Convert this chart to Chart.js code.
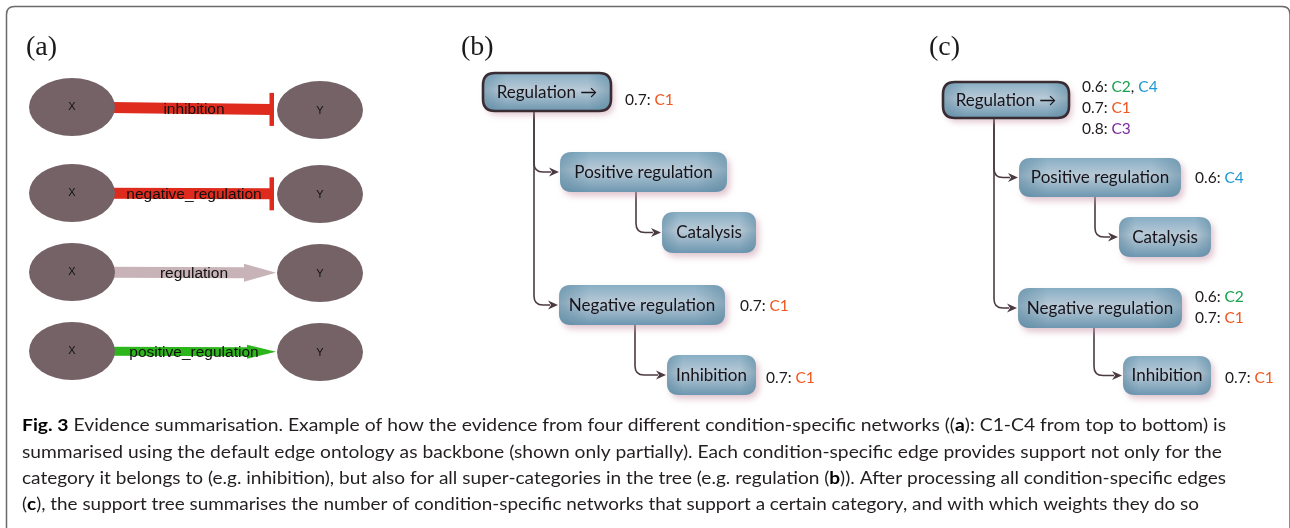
<!DOCTYPE html>
<html>
<head>
<meta charset="utf-8">
<script src="https://cdn.jsdelivr.net/npm/chart.js@4"></script>
<style>
  html, body { margin: 0; padding: 0; background: #fff; }
  canvas { display: block; }
</style>
</head>
<body>
<canvas id="fig3" width="1290" height="528"></canvas>
<script>
// panel (a): one condition-specific edge per network
const edgeTypes = ["inhibition", "negative_regulation", "regulation", "positive_regulation"];
const edgeSource = ["X", "X", "X", "X"];
const edgeTarget = ["Y", "Y", "Y", "Y"];
const edgeHeads = ["bar", "bar", "arrow", "arrow"];

// panels (b) and (c): the edge ontology tree
const categories = ["Regulation \u2192", "Positive regulation", "Catalysis", "Negative regulation", "Inhibition"];
const categoryParent = [null, 0, 1, 0, 3];

// support (weight, conditions) per category
const supportB = [[[0.7, ["C1"]]], [], [], [[0.7, ["C1"]]], [[0.7, ["C1"]]]];
const supportC = [
  [[0.6, ["C2", "C4"]], [0.7, ["C1"]], [0.8, ["C3"]]],
  [[0.6, ["C4"]]],
  [],
  [[0.6, ["C2"]], [0.7, ["C1"]]],
  [[0.7, ["C1"]]],
];

const conditionColors = { C1: "#f0561e", C2: "#17a24c", C3: "#7a2a9c", C4: "#1c98d4" };

const captionLines = [
  [["Fig. 3", true], [" Evidence summarisation. Example of how the evidence from four different condition-specific networks ((", false], ["a", true], ["): C1-C4 from top to bottom) is", false]],
  [["summarised using the default edge ontology as backbone (shown only partially). Each condition-specific edge provides support not only for the", false]],
  [["category it belongs to (e.g. inhibition), but also for all super-categories in the tree (e.g. regulation (", false], ["b", true], [")). After processing all condition-specific edges", false]],
  [["(", false], ["c", true], ["), the support tree summarises the number of condition-specific networks that support a certain category, and with which weights they do so", false]],
];

// ---- layout (figure units = px) ----
const layoutA = {
  srcX: 72, tgtX: 320, rx: 43, ry: 29,
  srcY: [107, 193, 272, 351], tgtY: [110, 194, 273, 352],
  bandStart: 110, barX: 271.5, tipX: 276,
  thick: [11, 11, 11, 9], headLen: [0, 0, 32, 29], headHalf: [0, 0, 9, 7],
  labelX: 196,
};
const boxesB = [[483, 73, 611, 111], [560, 152, 727, 192], [662, 212, 756, 253], [559, 285, 725, 325], [667, 355, 756, 395]];
const boxesC = [[943, 82, 1069, 118], [1019, 158, 1181, 197], [1119, 217, 1211, 257], [1018, 288, 1182, 328], [1123, 356, 1211, 395]];
const annB = [[625, 100], null, null, [740, 306], [766, 378]];
const annC = [[1082, 87], [1195, 178], null, [1195, 297], [1225, 378]];
const captionX = 22, captionY = [425, 452, 478, 504], captionRight = [1226, 1222, 1226, 1199];

function roundRect(ctx, x, y, w, h, r) {
  ctx.beginPath();
  ctx.moveTo(x + r, y);
  ctx.lineTo(x + w - r, y);
  ctx.quadraticCurveTo(x + w, y, x + w, y + r);
  ctx.lineTo(x + w, y + h - r);
  ctx.quadraticCurveTo(x + w, y + h, x + w - r, y + h);
  ctx.lineTo(x + r, y + h);
  ctx.quadraticCurveTo(x, y + h, x, y + h - r);
  ctx.lineTo(x, y + r);
  ctx.quadraticCurveTo(x, y, x + r, y);
  ctx.closePath();
}

function drawTree(ctx, px, py, boxes, ann, support) {
  // connectors first
  ctx.strokeStyle = "#4b3a42";
  ctx.fillStyle = "#4b3a42";
  ctx.lineWidth = 1.6;
  categories.forEach((name, i) => {
    const p = categoryParent[i];
    if (p === null) return;
    const pb = boxes[p], cb = boxes[i];
    const tx = px(pb[0] + (p === 0 ? 51 : 76));
    const top = py(pb[3]);
    const cy = py((cb[1] + cb[3]) / 2);
    const endX = px(cb[0]) - 1;
    ctx.beginPath();
    ctx.moveTo(tx, top);
    ctx.lineTo(tx, cy - 9);
    ctx.quadraticCurveTo(tx, cy, tx + 9, cy);
    ctx.lineTo(endX - 8, cy);
    ctx.stroke();
    ctx.beginPath();
    ctx.moveTo(endX, cy);
    ctx.lineTo(endX - 10, cy - 4.5);
    ctx.lineTo(endX - 7, cy);
    ctx.lineTo(endX - 10, cy + 4.5);
    ctx.closePath();
    ctx.fill();
  });

  categories.forEach((name, i) => {
    const b = boxes[i];
    const x0 = px(b[0]), y0 = py(b[1]), x1 = px(b[2]), y1 = py(b[3]);
    const w = x1 - x0, h = y1 - y0;
    ctx.save();
    ctx.shadowColor = "rgba(200,150,170,0.55)";
    ctx.shadowBlur = 6;
    ctx.shadowOffsetX = 3;
    ctx.shadowOffsetY = 4;
    const g = ctx.createLinearGradient(0, y0, 0, y1);
    g.addColorStop(0, "#88aec4");
    g.addColorStop(0.45, "#b9cad7");
    g.addColorStop(1, "#6d97b0");
    roundRect(ctx, x0, y0, w, h, 12);
    ctx.fillStyle = g;
    ctx.fill();
    ctx.restore();
    // darker sides
    const gs = ctx.createLinearGradient(x0, 0, x1, 0);
    gs.addColorStop(0, "rgba(90,135,160,0.55)");
    gs.addColorStop(0.18, "rgba(90,135,160,0)");
    gs.addColorStop(0.82, "rgba(90,135,160,0)");
    gs.addColorStop(1, "rgba(90,135,160,0.55)");
    roundRect(ctx, x0, y0, w, h, 12);
    ctx.fillStyle = gs;
    ctx.fill();
    if (i === 0) {
      roundRect(ctx, x0, y0, w, h, 12);
      ctx.strokeStyle = "#3a2c33";
      ctx.lineWidth = 2.6;
      ctx.stroke();
    }
    ctx.fillStyle = "#17131a";
    ctx.font = "17px Lato, 'DejaVu Sans'";
    ctx.textAlign = "center";
    ctx.textBaseline = "middle";
    ctx.fillText(name, (x0 + x1) / 2, (y0 + y1) / 2 + 0.5);

    const a = ann[i];
    if (!a) return;
    ctx.font = "15.5px Lato, 'DejaVu Sans'";
    ctx.textAlign = "left";
    support[i].forEach((row, r) => {
      let x = px(a[0]);
      const y = py(a[1] + r * 21);
      const head = row[0].toFixed(1) + ": ";
      ctx.fillStyle = "#1e1a1d";
      ctx.fillText(head, x, y);
      x += ctx.measureText(head).width;
      row[1].forEach((c, k) => {
        if (k > 0) {
          ctx.fillStyle = "#1e1a1d";
          ctx.fillText(", ", x, y);
          x += ctx.measureText(", ").width;
        }
        ctx.fillStyle = conditionColors[c];
        ctx.fillText(c, x, y);
        x += ctx.measureText(c).width;
      });
    });
  });
}

const figurePlugin = {
  id: "figure3",
  afterDraw(chart) {
    const ctx = chart.ctx;
    const px = v => chart.scales.x.getPixelForValue(v);
    const py = v => chart.scales.y.getPixelForValue(v);
    ctx.save();

    // frame
    roundRect(ctx, px(6.5), py(6.5), px(1290) - px(6.5), py(528) - py(6.5) + 80, 8);
    ctx.strokeStyle = "#6a6a6a";
    ctx.lineWidth = 1.5;
    ctx.stroke();

    // panel letters
    ctx.fillStyle = "#1a1a1a";
    ctx.font = "28px 'Liberation Serif'";
    ctx.textAlign = "left";
    ctx.textBaseline = "alphabetic";
    ctx.fillText("(a)", px(26), py(55));
    ctx.fillText("(b)", px(461), py(55));
    ctx.fillText("(c)", px(929), py(55));

    // panel (a)
    const A = layoutA;
    const bandColors = { inhibition: "#de2b1e", negative_regulation: "#de2b1e", regulation: "#c8b3b8", positive_regulation: "#2db51c" };
    edgeTypes.forEach((type, i) => {
      const sy = py(A.srcY[i]), ty = py(A.tgtY[i]);
      const col = bandColors[type];
      const half = A.thick[i] / 2;
      const x0 = px(A.bandStart);
      const endX = edgeHeads[i] === "bar" ? px(A.barX) : px(A.tipX - A.headLen[i]) + 1;
      const slope = (ty - sy) / (px(A.tgtX) - px(A.srcX));
      const yAt = x => sy + (x - px(A.srcX)) * slope;
      ctx.fillStyle = col;
      ctx.beginPath();
      ctx.moveTo(x0, yAt(x0) - half);
      ctx.lineTo(endX, yAt(endX) - half);
      ctx.lineTo(endX, yAt(endX) + half);
      ctx.lineTo(x0, yAt(x0) + half);
      ctx.closePath();
      ctx.fill();
      if (edgeHeads[i] === "bar") {
        const yc = yAt(endX);
        ctx.fillRect(endX - 2, yc - 16.5, 4.5, 33);
      } else {
        const hx = px(A.tipX - A.headLen[i]);
        const tip = px(A.tipX);
        ctx.beginPath();
        ctx.moveTo(hx, yAt(hx) - A.headHalf[i]);
        ctx.lineTo(tip, yAt(tip));
        ctx.lineTo(hx, yAt(hx) + A.headHalf[i]);
        ctx.closePath();
        ctx.fill();
      }
    });
    edgeTypes.forEach((type, i) => {
      ctx.fillStyle = "#746266";
      ctx.beginPath();
      ctx.ellipse(px(A.srcX), py(A.srcY[i]), A.rx, A.ry, 0, 0, Math.PI * 2);
      ctx.fill();
      ctx.beginPath();
      ctx.ellipse(px(A.tgtX), py(A.tgtY[i]), A.rx, A.ry, 0, 0, Math.PI * 2);
      ctx.fill();
      ctx.fillStyle = "#111";
      ctx.font = "11px 'Liberation Sans', Arial";
      ctx.textAlign = "center";
      ctx.textBaseline = "middle";
      ctx.fillText(edgeSource[i], px(A.srcX), py(A.srcY[i]));
      ctx.fillText(edgeTarget[i], px(A.tgtX), py(A.tgtY[i]) + 1);
      ctx.font = "15.5px 'Liberation Sans', Arial";
      ctx.fillText(type, px(A.labelX - 2), py((A.srcY[i] + A.tgtY[i]) / 2) + 1);
    });

    // panels (b) and (c)
    drawTree(ctx, px, py, boxesB, annB, supportB);
    drawTree(ctx, px, py, boxesC, annC, supportC);

    // caption
    ctx.textAlign = "left";
    ctx.textBaseline = "middle";
    captionLines.forEach((line, li) => {
      let total = 0;
      line.forEach(([t, b]) => {
        ctx.font = (b ? "bold " : "") + "17.5px Lato";
        total += ctx.measureText(t).width;
      });
      const sx = (px(captionRight[li]) - px(captionX)) / total;
      ctx.save();
      ctx.translate(px(captionX), py(captionY[li]));
      ctx.scale(sx, 1);
      let x = 0;
      line.forEach(([t, b]) => {
        ctx.font = (b ? "bold " : "") + "17.5px Lato";
        ctx.fillStyle = b ? "#000" : "#231f20";
        ctx.fillText(t, x, 0);
        x += ctx.measureText(t).width;
      });
      ctx.restore();
    });
    ctx.restore();
  },
};

new Chart(document.getElementById("fig3").getContext("2d"), {
  type: "scatter",
  data: {
    datasets: [{
      label: "nodes",
      data: layoutA.srcY.map(y => ({ x: layoutA.srcX, y: y })),
      pointRadius: 0,
    }],
  },
  options: {
    responsive: false,
    animation: false,
    events: [],
    layout: { padding: 0 },
    plugins: { legend: { display: false }, tooltip: { enabled: false } },
    scales: {
      x: { type: "linear", min: 0, max: 1290, display: false },
      y: { type: "linear", min: 0, max: 528, reverse: true, display: false },
    },
  },
  plugins: [figurePlugin],
});
</script>
</body>
</html>
